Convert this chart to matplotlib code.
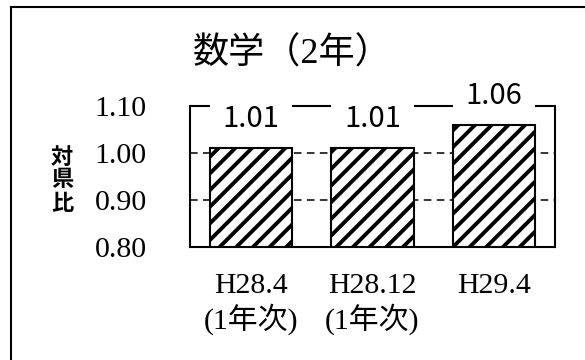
import matplotlib
matplotlib.use("Agg")
import matplotlib.pyplot as plt
from matplotlib.lines import Line2D

# Data
title = "数学（2年）"
periods = ["H28.4\n(1年次)", "H28.12\n(1年次)", "H29.4"]
ratios = [1.01, 1.01, 1.06]
ytick_values = [0.80, 0.90, 1.00, 1.10]
ytick_labels = ["0.80", "0.90", "1.00", "1.10"]
grid_levels = [0.90, 1.00]
ylabel = "対\n県\n比"

W, H = 585, 360
plt.rcParams["hatch.linewidth"] = 2.8
plt.rcParams["hatch.color"] = "black"

fig = plt.figure(figsize=(W / 100, H / 100), dpi=100)
fig.patch.set_facecolor("white")

ax = fig.add_axes([190 / W, 1 - 246.7 / H, (555 - 190) / W, (246.7 - 106) / H])

serif = ["Liberation Serif", "Noto Sans CJK JP"]
gothic = ["Noto Sans CJK JP", "DejaVu Sans"]

x = list(range(len(ratios)))
bar_w = 0.674

# dashed reference lines behind the bars
for g in grid_levels:
    ax.axhline(g, color="black", lw=1.1, ls=(0, (5, 3.5)), zorder=1)

ax.bar(x, ratios, width=bar_w, bottom=0, facecolor="white", edgecolor="black",
       hatch="//", linewidth=1.5, zorder=2)

ax.set_xlim(-0.5, len(ratios) - 0.5)
ax.set_ylim(ytick_values[0], ytick_values[-1])

# top border, broken above each bar
edges = [-0.5]
for xi in x:
    edges += [xi - bar_w / 2, xi + bar_w / 2]
edges.append(len(ratios) - 0.5)
for a, b in zip(edges[0::2], edges[1::2]):
    ax.hlines(ytick_values[-1], a, b, color="black", lw=1.5, clip_on=False, zorder=3)

for side in ["left", "right", "bottom"]:
    ax.spines[side].set_linewidth(1.5)
    ax.spines[side].set_color("black")
ax.spines["top"].set_visible(False)

# value labels
for xi, v in zip(x, ratios):
    ax.annotate(f"{v:.2f}", xy=(xi, v), xytext=(0, 21), textcoords="offset points",
                ha="center", va="center", fontsize=21, family=gothic, zorder=4)

ax.set_yticks(ytick_values)
ax.set_yticklabels(ytick_labels, family=serif, fontsize=21.5)
ax.tick_params(axis="y", length=0, pad=31)
ax.set_xticks(x)
ax.set_xticklabels(periods, family=serif, fontsize=21.5, linespacing=1.15)
ax.tick_params(axis="x", length=0, pad=19)

fig.text(62 / W, 1 - 180 / H, ylabel, ha="center", va="center", fontsize=16,
         fontweight="bold", family=["Noto Sans CJK JP"], linespacing=1.0)

fig.text(292 / W, 1 - 54 / H, title, ha="center", va="center", fontsize=26,
         family=serif)

# outer frame (left and top edges)
fig.add_artist(Line2D([11 / W, 11 / W], [0, 1 - 7 / H], transform=fig.transFigure,
                      color="black", lw=1.5))
fig.add_artist(Line2D([11 / W, 1], [1 - 7 / H, 1 - 7 / H], transform=fig.transFigure,
                      color="black", lw=1.5))

fig.savefig("out.png", dpi=100, facecolor="white")
